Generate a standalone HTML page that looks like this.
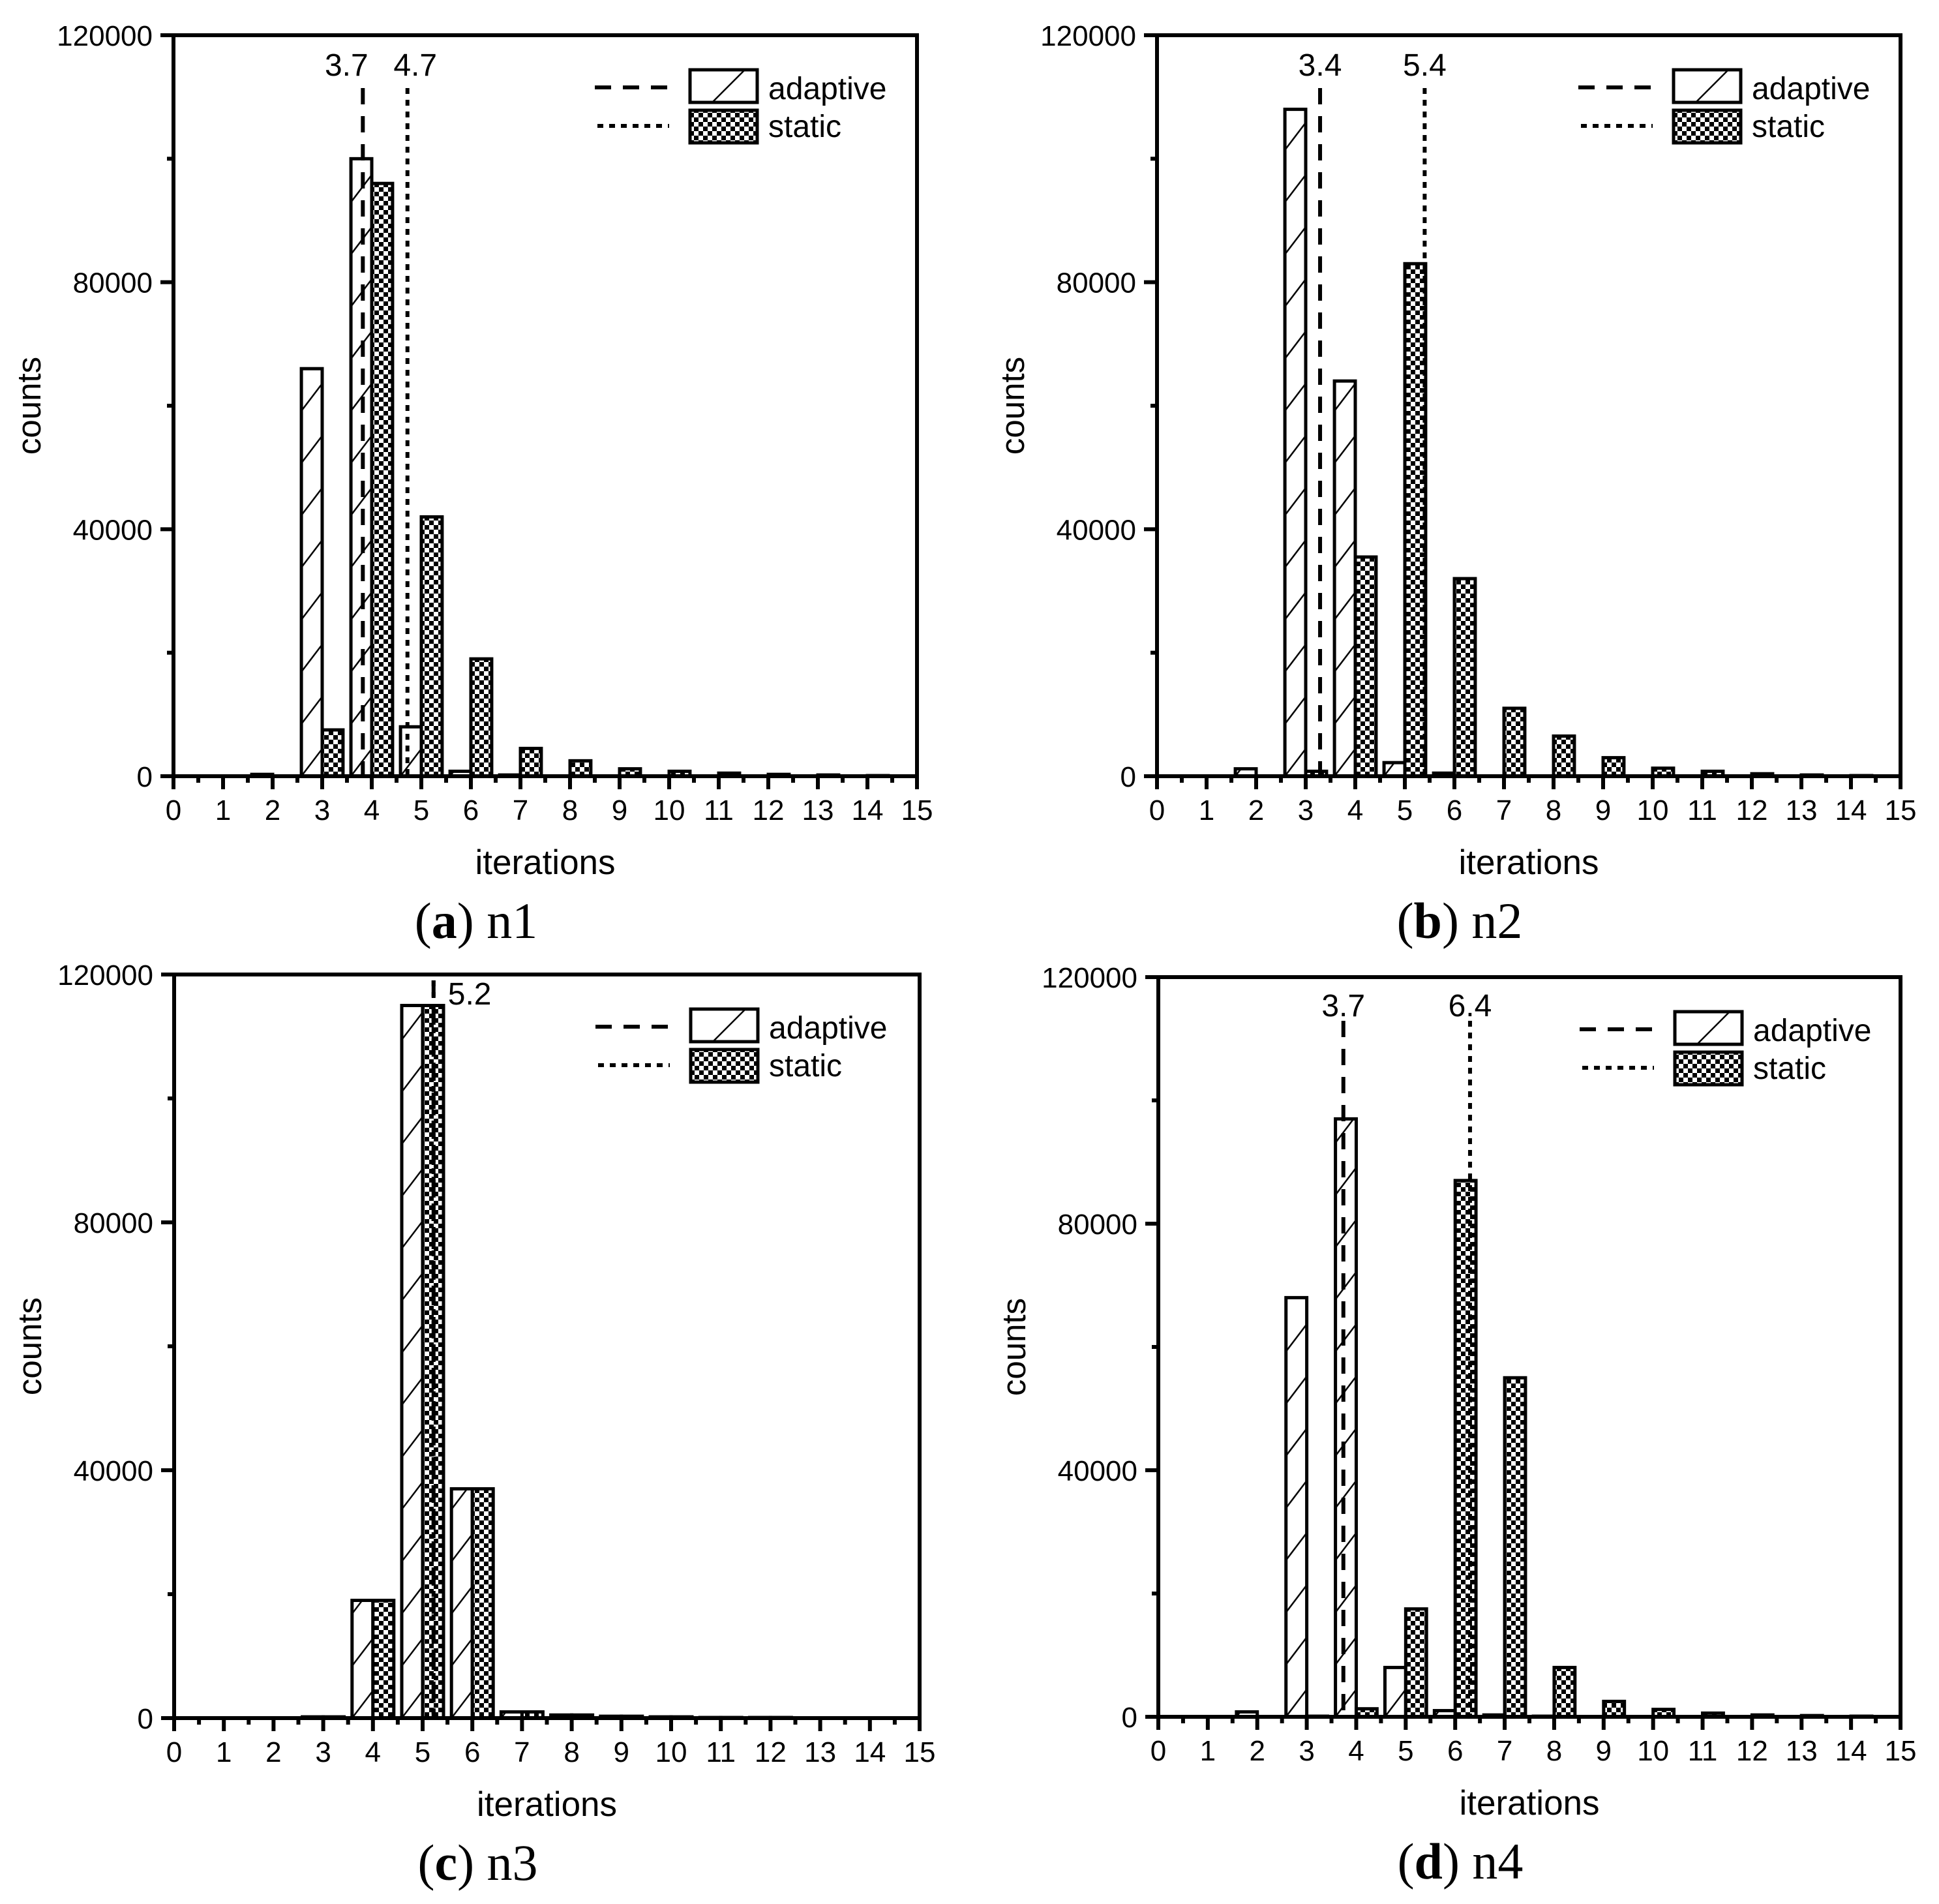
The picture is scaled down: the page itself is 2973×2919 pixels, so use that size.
<!DOCTYPE html>
<html><head><meta charset="utf-8">
<style>
html,body{margin:0;padding:0;background:#fff;}
svg{display:block;}
</style></head>
<body>
<svg id="fig" xmlns="http://www.w3.org/2000/svg" width="2973" height="2919" viewBox="0 0 2973 2919">
<defs>
<pattern id="checker" patternUnits="userSpaceOnUse" width="14" height="14">
<rect width="14" height="14" fill="#fff"/>
<rect x="0" y="0" width="7" height="7" fill="#000"/>
<rect x="7" y="7" width="7" height="7" fill="#000"/>
</pattern>
</defs>
</svg>
<script>
// iterations categories
const iters = [0,1,2,3,4,5,6,7,8,9,10,11,12,13,14];
// counts per panel (adaptive / static)
const n1Adaptive = [0,0,300,66000,100000,8000,800,200,0,0,0,0,0,0,0];
const n1Static   = [0,0,0,7500,96000,42000,19000,4500,2500,1200,800,500,300,200,100];
const n2Adaptive = [0,0,1200,108000,64000,2200,500,0,0,0,0,0,0,0,0];
const n2Static   = [0,0,0,800,35500,83000,32000,11000,6500,3000,1300,800,400,200,100];
const n3Adaptive = [0,0,0,200,19000,115000,37000,1000,500,300,200,100,100,50,0];
const n3Static   = [0,0,0,200,19000,115000,37000,1000,500,300,200,100,100,50,0];
const n4Adaptive = [0,0,800,68000,97000,8000,1000,300,100,0,0,0,0,0,0];
const n4Static   = [0,0,0,100,1300,17500,87000,55000,8000,2500,1200,600,300,200,100];
// mean markers: position on axis, printed label
const n1Means = [3.82, 4.72]; const n1MeanLabels = ["3.7","4.7"];
const n2Means = [3.29, 5.4];  const n2MeanLabels = ["3.4","5.4"];
const n3Means = [5.22, 5.22]; const n3MeanLabels = ["5.2","5.2"];
const n4Means = [3.74, 6.3];  const n4MeanLabels = ["3.7","6.4"];
const yTicks = [0,40000,80000,120000];
const yTickLabels = ["0","40000","80000","120000"];
const xTickLabels = ["0","1","2","3","4","5","6","7","8","9","10","11","12","13","14","15"];
const panelCaptions = [["a","n1"],["b","n2"],["c","n3"],["d","n4"]];

const svg = document.getElementById('fig');
const NS = 'http://www.w3.org/2000/svg';
function mk(tag, attrs, parent){
  const e = document.createElementNS(NS, tag);
  for (const k in attrs) e.setAttribute(k, attrs[k]);
  (parent||svg).appendChild(e);
  return e;
}
const defs = svg.querySelector('defs');
const SANS = '"Liberation Sans", Arial, sans-serif';
const SERIF = '"Liberation Serif", "Times New Roman", serif';

const panels = [
  {L:266,T:54,R:1406,B:1190, a:n1Adaptive, s:n1Static, m:n1Means, ml:n1MeanLabels, lo:[-25,12], lineTop:135, labY:116, single:false},
  {L:1774,T:54,R:2914,B:1190, a:n2Adaptive, s:n2Static, m:n2Means, ml:n2MeanLabels, lo:[0,0], lineTop:135, labY:116, single:false},
  {L:267,T:1494,R:1410,B:2634, a:n3Adaptive, s:n3Static, m:n3Means, ml:n3MeanLabels, lo:[0,0], lineTop:1503, labY:1540, single:true},
  {L:1776,T:1498,R:2914,B:2632, a:n4Adaptive, s:n4Static, m:n4Means, ml:n4MeanLabels, lo:[0,0], lineTop:1565, labY:1558, single:false}
];

panels.forEach((p, pi) => {
  const g = mk('g', {});
  
  
  const xs = v => p.L + (v/15)*(p.R-p.L);
  const ys = v => p.B - (v/120000)*(p.B-p.T);
  const unit = (p.R-p.L)/15;
  const bw = 0.42*unit;
  const pat = mk('pattern', {id:'hatch'+pi, patternUnits:'userSpaceOnUse', x:(p.L - bw), y:p.B, width:unit, height:80}, defs);
  mk('rect', {width:unit, height:80, fill:'#fff'}, pat);
  mk('line', {x1:0, y1:80, x2:bw, y2:38, stroke:'#000', 'stroke-width':2.5}, pat);

  iters.forEach((it, i) => {
    const va = p.a[i], vs = p.s[i];
    if (va > 0) {
      const r = mk('rect', {x:xs(it)-bw, y:ys(va), width:bw, height:ys(0)-ys(va), fill:'url(#hatch'+pi+')', stroke:'#000', 'stroke-width':5}, g);
      
      
    }
    if (vs > 0) {
      const r = mk('rect', {x:xs(it), y:ys(vs), width:bw, height:ys(0)-ys(vs), fill:'url(#checker)', stroke:'#000', 'stroke-width':5}, g);
      
      
    }
  });

  const dashes = ['25 18', '9 9'];
  p.m.forEach((mv, k) => {
    const l = mk('line', {x1:xs(mv), x2:xs(mv), y1:p.lineTop, y2:p.B, stroke:'#000', 'stroke-width':6, 'stroke-dasharray':dashes[k]}, g);
    
    
    if (p.single && k===0) return;
    const t = mk('text', {x: p.single ? xs(mv)+22 : xs(mv)+p.lo[k], y:p.labY, 'font-family':SANS, 'font-size':48, 'text-anchor': p.single ? 'start' : 'middle'}, g);
    t.textContent = p.ml[k];
    
    
  });

  const fr = mk('rect', {x:p.L, y:p.T, width:p.R-p.L, height:p.B-p.T, fill:'none', stroke:'#000', 'stroke-width':6}, g);
  
  

  for (let v=0; v<=15; v+=0.5) {
    const major = Number.isInteger(v);
    mk('line', {x1:xs(v), x2:xs(v), y1:p.B, y2:p.B + (major?20:10), stroke:'#000', 'stroke-width':6}, g);
  }
  xTickLabels.forEach((lab, i) => {
    const t = mk('text', {x:xs(i), y:p.B+67, 'font-family':SANS, 'font-size':44, 'text-anchor':'middle'}, g);
    t.textContent = lab;
    
    
  });
  for (let v=0; v<=120000; v+=20000) {
    const major = v % 40000 === 0;
    mk('line', {x1:p.L - (major?20:10), x2:p.L, y1:ys(v), y2:ys(v), stroke:'#000', 'stroke-width':6}, g);
  }
  yTicks.forEach((v, i) => {
    const t = mk('text', {x:p.L-32, y:ys(v)+16, 'font-family':SANS, 'font-size':44, 'text-anchor':'end'}, g);
    t.textContent = yTickLabels[i];
    
    
  });
  const xt = mk('text', {x:(p.L+p.R)/2, y:p.B+150, 'font-family':SANS, 'font-size':53, 'text-anchor':'middle'}, g);
  xt.textContent = 'iterations';
  
  
  const cy = (p.T+p.B)/2;
  const yt = mk('text', {x:0, y:0, 'font-family':SANS, 'font-size':51, 'text-anchor':'middle', transform:'translate('+(p.L-204)+','+cy+') rotate(-90)'}, g);
  yt.textContent = 'counts';
  
  
  const cap = mk('text', {x:(p.L+p.R)/2 - 106, y:p.B+248, 'font-family':SERIF, 'font-size':78, 'text-anchor':'middle'}, g);
  
  
  const t1 = mk('tspan', {}, cap); t1.textContent = '(';
  const t2 = mk('tspan', {'font-weight':'bold'}, cap); t2.textContent = panelCaptions[pi][0];
  const t3 = mk('tspan', {}, cap); t3.textContent = ') ' + panelCaptions[pi][1];

  const lg = mk('g', {transform:'translate('+p.L+','+p.T+')'}, g);
  
  
  mk('line', {x1:646, x2:760, y1:80, y2:80, stroke:'#000', 'stroke-width':6, 'stroke-dasharray':'25 18'}, lg);
  mk('rect', {x:792, y:53, width:103, height:50, fill:'#fff', stroke:'#000', 'stroke-width':5}, lg);
  mk('line', {x1:826, y1:103, x2:876, y2:53, stroke:'#000', 'stroke-width':2.5}, lg);
  const la = mk('text', {x:912, y:98, 'font-family':SANS, 'font-size':48}, lg);
  la.textContent = 'adaptive';
  
  
  mk('line', {x1:650, x2:760, y1:139, y2:139, stroke:'#000', 'stroke-width':6, 'stroke-dasharray':'9 9'}, lg);
  mk('rect', {x:792, y:115, width:103, height:50, fill:'url(#checker)', stroke:'#000', 'stroke-width':5}, lg);
  const ls = mk('text', {x:912, y:156, 'font-family':SANS, 'font-size':48}, lg);
  ls.textContent = 'static';
  
  
});
</script>
</body></html>
